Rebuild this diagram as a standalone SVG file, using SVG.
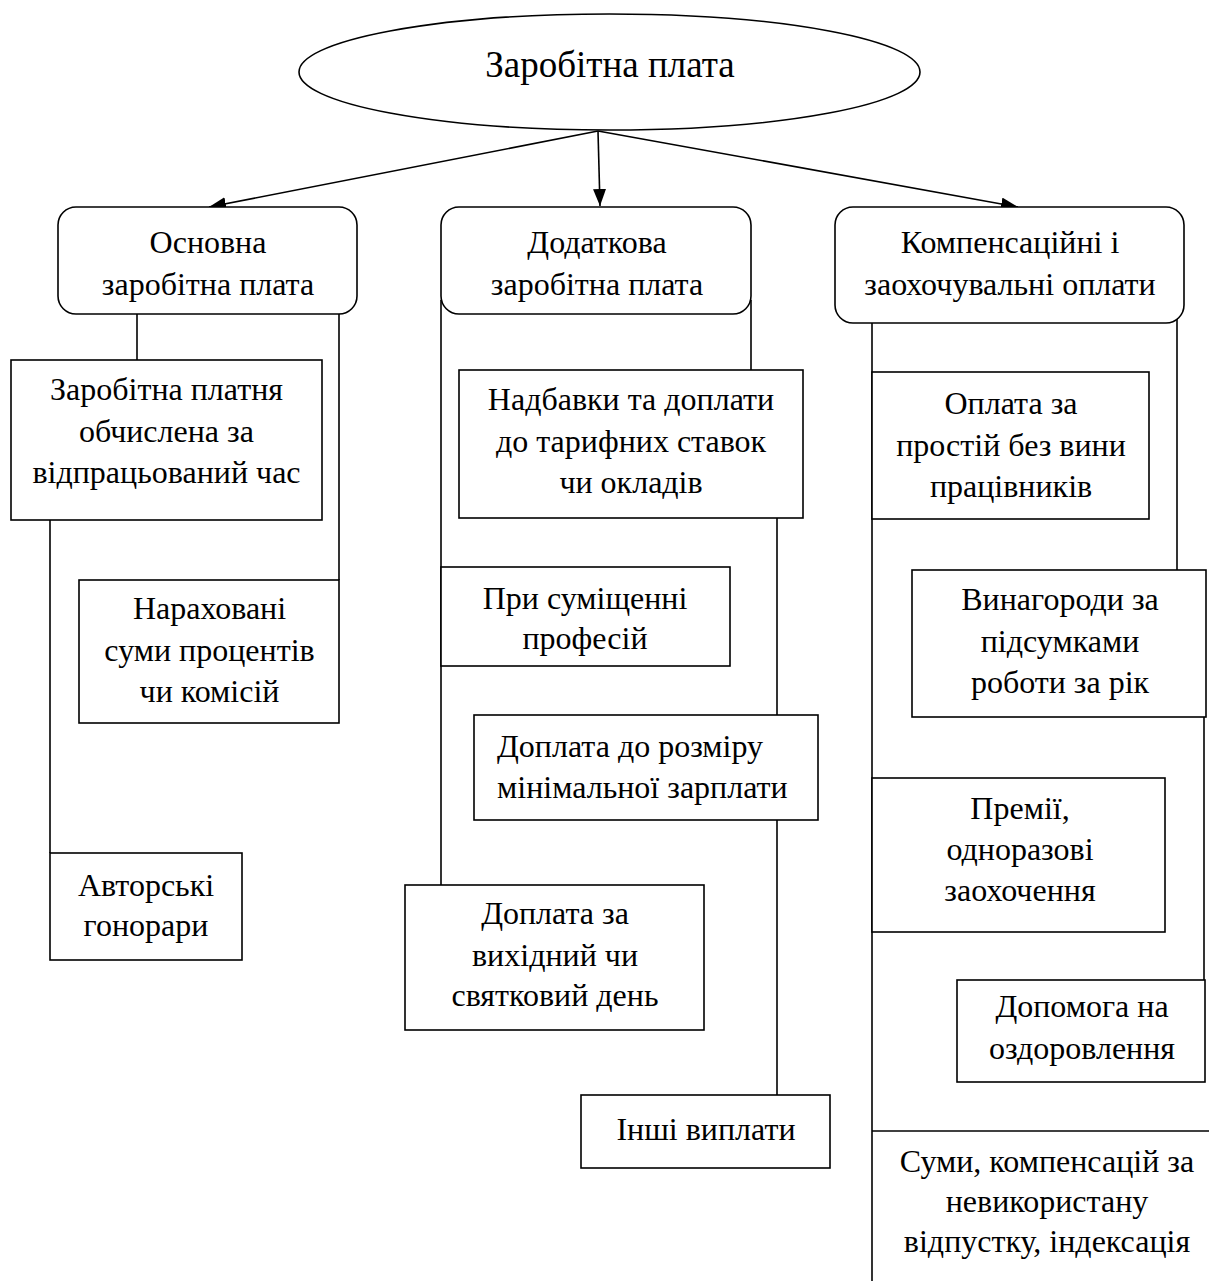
<svg xmlns="http://www.w3.org/2000/svg" width="1209" height="1281" viewBox="0 0 1209 1281">
<style>
.bx{fill:#fff;stroke:#000;stroke-width:1.6}
.ln{fill:none;stroke:#000;stroke-width:1.6}
.t{font-family:"Liberation Serif","Times New Roman",serif;font-size:32px;fill:#000;text-anchor:middle}
.tl{text-anchor:start}
.big{font-size:37px}
</style>
<defs>
<marker id="ah" markerUnits="userSpaceOnUse" markerWidth="18" markerHeight="14" refX="17" refY="6.5" orient="auto">
<path d="M0,0 L17,6.5 L0,13 z" fill="#000"/>
</marker>
</defs>
<rect width="1209" height="1281" fill="#fff"/>
<g id="connectors">
<line class="ln" x1="598" y1="131" x2="209" y2="207" marker-end="url(#ah)"/>
<line class="ln" x1="598" y1="131" x2="600" y2="206" marker-end="url(#ah)"/>
<line class="ln" x1="598" y1="131" x2="1018" y2="207" marker-end="url(#ah)"/>
<line class="ln" x1="137" y1="314" x2="137" y2="360"/>
<line class="ln" x1="339" y1="300" x2="339" y2="580"/>
<line class="ln" x1="50" y1="520" x2="50" y2="853"/>
<line class="ln" x1="441" y1="300" x2="441" y2="885"/>
<line class="ln" x1="751" y1="300" x2="751" y2="370"/>
<line class="ln" x1="777" y1="518" x2="777" y2="715"/>
<line class="ln" x1="777" y1="820" x2="777" y2="1095"/>
<line class="ln" x1="872" y1="323" x2="872" y2="1281"/>
<line class="ln" x1="1177" y1="310" x2="1177" y2="570"/>
<line class="ln" x1="1204" y1="717" x2="1204" y2="980"/>
</g>
<g id="root">
<ellipse class="bx" cx="609.5" cy="72" rx="310.5" ry="58"/>
<text class="t big" x="610" y="77">Заробітна плата</text>
</g>
<g id="osnovna">
<rect class="bx" x="58" y="207" width="299" height="107" rx="18"/>
<text class="t" x="208" y="253">Основна</text>
<text class="t" x="208" y="295">заробітна плата</text>
</g>
<g id="dodatkova">
<rect class="bx" x="441" y="207" width="310" height="107" rx="18"/>
<text class="t" x="597" y="253">Додаткова</text>
<text class="t" x="597" y="295">заробітна плата</text>
</g>
<g id="kompensatsiini">
<rect class="bx" x="835" y="207" width="349" height="116" rx="18"/>
<text class="t" x="1010" y="253">Компенсаційні і</text>
<text class="t" x="1010" y="295">заохочувальні оплати</text>
</g>
<g id="zp_chas">
<rect class="bx" x="11" y="360" width="311" height="160"/>
<text class="t" x="166.5" y="400">Заробітна платня</text>
<text class="t" x="166.5" y="442">обчислена за</text>
<text class="t" x="166.5" y="483">відпрацьований час</text>
</g>
<g id="narakhovani">
<rect class="bx" x="79" y="580" width="260" height="143"/>
<text class="t" x="209.5" y="619">Нараховані</text>
<text class="t" x="209.5" y="661">суми процентів</text>
<text class="t" x="209.5" y="702">чи комісій</text>
</g>
<g id="avtorski">
<rect class="bx" x="50" y="853" width="192" height="107"/>
<text class="t" x="146" y="896">Авторські</text>
<text class="t" x="146" y="936">гонорари</text>
</g>
<g id="nadbavky">
<rect class="bx" x="459" y="370" width="344" height="148"/>
<text class="t" x="631" y="410">Надбавки та доплати</text>
<text class="t" x="631" y="452">до тарифних ставок</text>
<text class="t" x="631" y="493">чи окладів</text>
</g>
<g id="sumishchenni">
<rect class="bx" x="441" y="567" width="289" height="99"/>
<text class="t" x="585" y="609">При суміщенні</text>
<text class="t" x="585" y="649">професій</text>
</g>
<g id="min_zarplata">
<rect class="bx" x="474" y="715" width="344" height="105"/>
<text class="t tl" x="497" y="757">Доплата до розміру</text>
<text class="t tl" x="497" y="798">мінімальної зарплати</text>
</g>
<g id="vykhidnyi">
<rect class="bx" x="405" y="885" width="299" height="145"/>
<text class="t" x="555" y="924">Доплата за</text>
<text class="t" x="555" y="966">вихідний чи</text>
<text class="t" x="555" y="1006">святковий день</text>
</g>
<g id="inshi">
<rect class="bx" x="581" y="1095" width="249" height="73"/>
<text class="t" x="706" y="1140">Інші виплати</text>
</g>
<g id="prostii">
<rect class="bx" x="872" y="372" width="277" height="147"/>
<text class="t" x="1011" y="414">Оплата за</text>
<text class="t" x="1011" y="456">простій без вини</text>
<text class="t" x="1011" y="497">працівників</text>
</g>
<g id="vynahorody">
<rect class="bx" x="912" y="570" width="294" height="147"/>
<text class="t" x="1060" y="610">Винагороди за</text>
<text class="t" x="1060" y="652">підсумками</text>
<text class="t" x="1060" y="693">роботи за рік</text>
</g>
<g id="premii">
<rect class="bx" x="872" y="778" width="293" height="154"/>
<text class="t" x="1020" y="819">Премії,</text>
<text class="t" x="1020" y="860">одноразові</text>
<text class="t" x="1020" y="901">заохочення</text>
</g>
<g id="dopomoha">
<rect class="bx" x="957" y="980" width="248" height="102"/>
<text class="t" x="1082" y="1017">Допомога на</text>
<text class="t" x="1082" y="1059">оздоровлення</text>
</g>
<g id="sumy">
<line class="ln" x1="872" y1="1131" x2="1209" y2="1131"/>
<text class="t" x="1047" y="1172">Суми, компенсацій за</text>
<text class="t" x="1047" y="1212">невикористану</text>
<text class="t" x="1047" y="1252">відпустку, індексація</text>
</g>
</svg>
